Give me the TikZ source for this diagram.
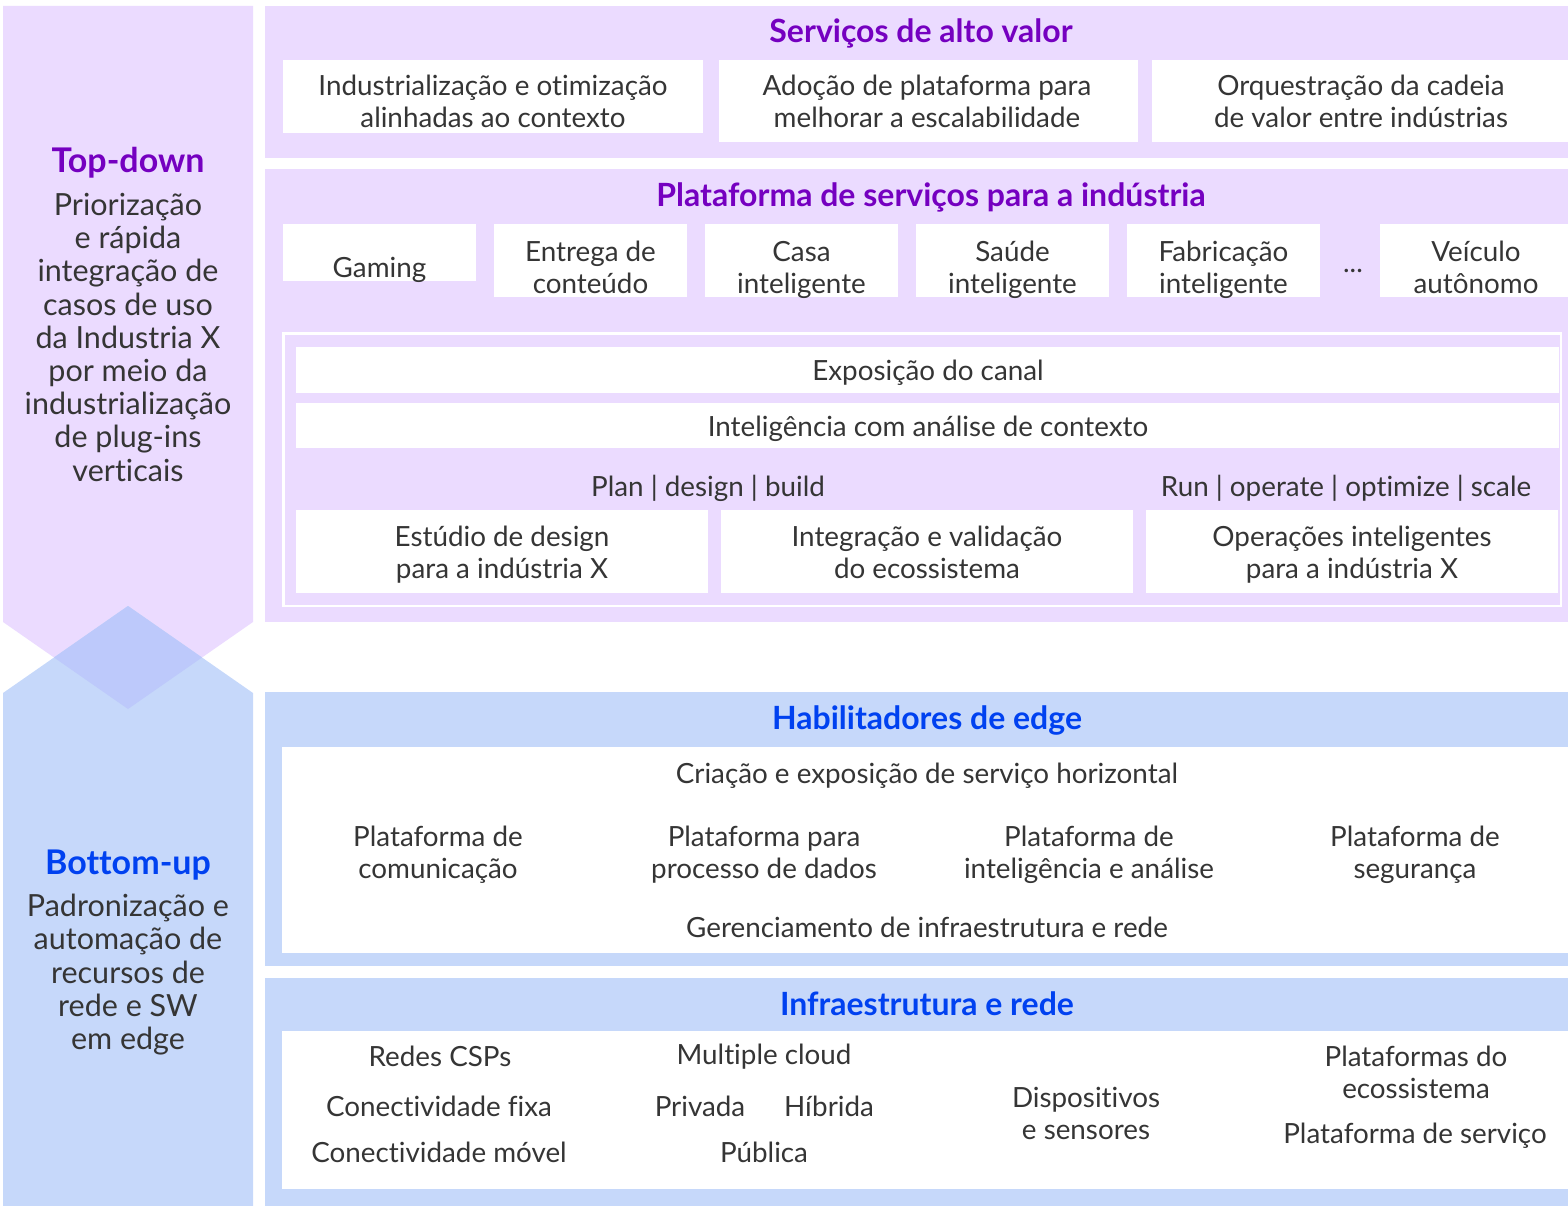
\documentclass[tikz,border=0pt]{standalone}
\usepackage{fontspec}
\setmainfont{Lato}[Ligatures=NoCommon]
\definecolor{pur}{HTML}{EBDBFF}
\definecolor{blu}{HTML}{C6D8FA}
\definecolor{ovl}{HTML}{BDC9FB}
\definecolor{tpur}{HTML}{7500C0}
\definecolor{tblu}{HTML}{0041F0}
\definecolor{txt}{HTML}{353535}
\begin{document}
\begin{tikzpicture}[x=1pt,y=-1pt,
  tx/.style={font=\fontsize{27.8}{32}\selectfont, text=txt, align=center, inner sep=0pt, yshift=-3pt},
  sidetx/.style={font=\fontsize{30.5}{33.2}\selectfont, text=txt, align=center, inner sep=0pt},
  ttlp/.style={font=\fontsize{32}{36}\selectfont\bfseries, text=tpur, inner sep=0pt, yshift=-3pt},
  ttlb/.style={font=\fontsize{32}{36}\selectfont\bfseries, text=tblu, inner sep=0pt, yshift=-3pt},
  sidettlp/.style={font=\fontsize{34}{38}\selectfont\bfseries, text=tpur, inner sep=0pt, yshift=-3pt},
  sidettlb/.style={font=\fontsize{34}{38}\selectfont\bfseries, text=tblu, inner sep=0pt, yshift=-3pt},
  wbox/.style={fill=white, draw=none, inner sep=0pt, anchor=north west}
]
\useasboundingbox (0,0) rectangle (1568,1206);
% left column
\fill[pur] (3,6) -- (253,6) -- (253,622) -- (128,709) -- (3,622) -- cycle;
\fill[blu] (3,693) -- (128,606) -- (253,693) -- (253,1206) -- (3,1206) -- cycle;
\fill[ovl] (128,606) -- (202,657.5) -- (128,709) -- (54,657.5) -- cycle;
\node[sidettlp] (td) at (128,160) {Top-down};
\node[sidetx, anchor=north] (tdt) at (128,193) {Priorização\\e rápida\\integração de\\casos de uso\\da Industria X\\por meio da\\industrialização\\de plug-ins\\verticais};
\node[sidettlb] (bu) at (128,862) {Bottom-up};
\node[sidetx, anchor=north] (but) at (128,894) {Padronização e\\automação de\\recursos de\\rede e SW\\em edge};

% top panel
\fill[pur] (265,6) rectangle (1568,158);
\node[ttlp] (t1) at (921,30) {Serviços de alto valor};
\node[wbox, minimum width=420, minimum height=73] (s1) at (283,60) {};
\node[wbox, minimum width=419, minimum height=82] (s2) at (719,60) {};
\node[wbox, minimum width=416, minimum height=82] (s3) at (1152,60) {};
\node[tx] at (493,98.5) {Industrialização e otimização\\alinhadas ao contexto};
\node[tx] at (927,98.5) {Adoção de plataforma para\\melhorar a escalabilidade};
\node[tx] at (1361,98.5) {Orquestração da cadeia\\de valor entre indústrias};

% platform panel
\fill[pur] (265,169) rectangle (1568,622);
\node[ttlp] (t2) at (931,194) {Plataforma de serviços para a indústria};
\node[wbox, minimum width=193, minimum height=57] (g1) at (283,224) {};
\node[tx] at (379.5,267) {Gaming};
\node[wbox, minimum width=193, minimum height=73] (g2) at (494,224) {};
\node[tx] at (590.5,264) {Entrega de\\conteúdo};
\node[wbox, minimum width=193, minimum height=73] (g3) at (705,224) {};
\node[tx] at (801.5,267) {Casa\\inteligente};
\node[wbox, minimum width=193, minimum height=73] (g4) at (916,224) {};
\node[tx] at (1012.5,267) {Saúde\\inteligente};
\node[wbox, minimum width=193, minimum height=73] (g5) at (1127,224) {};
\node[tx] at (1223.5,267) {Fabricação\\inteligente};
\node[tx] (dots) at (1353,268) {...};
\node[wbox, minimum width=188, minimum height=73] (g6) at (1380,224) {};
\node[tx] at (1476,264) {Veículo\\autônomo};

\draw[white, line width=2.5pt] (283.5,333.5) rectangle (1561,606);
\node[wbox, minimum width=1263, minimum height=46] (c1) at (296,347) {};
\node[tx] at (928,370) {Exposição do canal};
\node[wbox, minimum width=1263, minimum height=45] (c2) at (296,403) {};
\node[tx] at (928,426) {Inteligência com análise de contexto};
\node[tx] (pdb) at (708,485) {Plan | design | build};
\node[tx] (ros) at (1346,485) {Run | operate | optimize | scale};
\node[wbox, minimum width=412, minimum height=83] (d1) at (296,510) {};
\node[tx] at (502,552) {Estúdio de design\\para a indústria X};
\node[wbox, minimum width=412, minimum height=83] (d2) at (721,510) {};
\node[tx] at (927,549) {Integração e validação\\do ecossistema};
\node[wbox, minimum width=412, minimum height=83] (d3) at (1146,510) {};
\node[tx] at (1352,552) {Operações inteligentes\\para a indústria X};

% edge enablers
\fill[blu] (265,692) rectangle (1568,966);
\node[ttlb] (t3) at (927,717) {Habilitadores de edge};
\node[wbox, minimum width=1286, minimum height=206] (e0) at (282,747) {};
\node[tx] at (927,773) {Criação e exposição de serviço horizontal};
\node[tx] at (438,852) {Plataforma de\\comunicação};
\node[tx] at (764,852) {Plataforma para\\processo de dados};
\node[tx] at (1089,852) {Plataforma de\\inteligência e análise};
\node[tx] at (1415,852) {Plataforma de\\segurança};
\node[tx] at (927,924) {Gerenciamento de infraestrutura e rede};

% infrastructure
\fill[blu] (265,978) rectangle (1568,1206);
\node[ttlb] (t4) at (927,1001) {Infraestrutura e rede};
\node[wbox, minimum width=1286, minimum height=158] (i0) at (282,1031) {};
\node[tx] at (440,1053) {Redes CSPs};
\node[tx] at (439,1103) {Conectividade fixa};
\node[tx] at (439,1149) {Conectividade móvel};
\node[tx] at (764,1054) {Multiple cloud};
\node[tx] at (700,1103) {Privada};
\node[tx] at (829,1103) {Híbrida};
\node[tx] at (764,1149) {Pública};
\node[tx] at (1086,1110) {Dispositivos\\e sensores};
\node[tx] at (1416,1069) {Plataformas do\\ecossistema};
\node[tx] at (1415,1133) {Plataforma de serviço};
\end{tikzpicture}
\end{document}
